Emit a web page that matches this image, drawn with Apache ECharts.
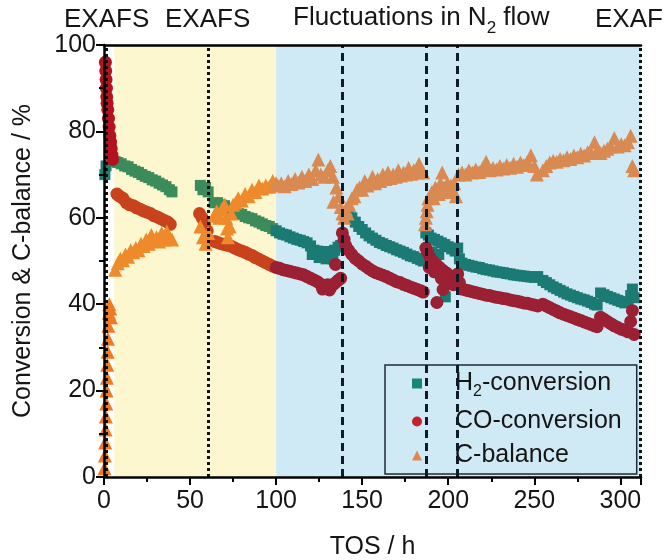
<!DOCTYPE html>
<html><head><meta charset="utf-8">
<script src="https://cdn.jsdelivr.net/npm/echarts/dist/echarts.min.js"></script>
<style>html,body{margin:0;padding:0;background:#fff}#c{width:672px;height:560px}</style>
</head><body><div id="c"></div><script>
// ---------- data ----------
const seriesNames = ['H2-conversion', 'CO-conversion', 'C-balance'];

const h2Data = [
  [0.5,70],[1.2,72],
  [6.5,73],[8,72.8],[10,72.5],[12,72],[14,71.8],[16,71.2],[18,70.8],[20,70.5],[22,70],[24,69.6],[26,69.3],[28,68.8],[30,68.5],[32,68],[34,67.6],[36,67.2],[38,66.5],[39.5,66],
  [56,67.5],[57.5,66.5],[59,67],[60.5,66],
  [64,63.5],[66,63.5],[68,63],[70,62.8],[72,62.2],[74,62],[76,61.5],[78,61],[80,60.8],[82,60.3],[84,60],[86,59.8],[88,59.3],[90,59],[92,58.6],[94,58.2],[96,58],[98,57.5],[100,57],
  [102,56.5],[104,56.2],[106,56],[108,55.6],[110,55.3],[112,55],[114,54.8],[116,54.5],[118,54.2],[120,53.5],[121,51.5],[122,52.5],[124,52.3],[125,50.8],[126,52],[128,52.2],[129,50.5],[130,51.8],[132,52],[133,50.5],[134,52.5],[136,53.2],[137.5,53.6],
  [142,60.5],[144,60],[146,59],[148,58],[150,57.3],[152,56.5],[154,55.8],[156,55.3],[158,54.8],[160,54.3],[162,54],[164,53.6],[166,53.3],[168,53],[170,52.6],[172,52.3],[174,52],[176,51.6],[178,51.2],[180,51],[182,50.6],[184,50.3],[185.5,50],
  [187,56.5],[188.5,56],[190,55.3],[192,55],[194,54.6],[196,54.2],[198,53.8],[200,53.3],[202,52.8],[204,52.3],[190.5,52],[194.5,51.5],[198.3,41.7],
  [205.5,53],[206.5,50.5],[208,49.5],[210,49.2],[212,49],[214,48.8],[216,48.6],[218,48.5],[220,48.2],[222,48],[224,47.9],[226,47.7],[228,47.5],[230,47.4],[232,47.3],[234,47.1],[236,47],[238,46.8],[240,46.7],[242,46.6],[244,46.5],[246,46.4],[248,46.3],[250,46.2],[252,46.4],
  [255,45.5],[257,45],[259,44.5],[261,44],[263,43.6],[265,43.2],[267,42.8],[269,42.4],[271,42.1],[273,41.8],[275,41.5],[277,41.2],[279,41],[281,40.7],[283,40.4],[285,40],[286.5,39.8],
  [288.5,42.6],[290.5,42.2],[292.5,41.8],[294.5,41.5],[296.5,41.2],[298.5,40.9],[300.5,40.6],[302.5,40.3],[304.5,40.4],[306,42],[307,43.5],[308,41.5]
];

const coData = [
  [0.8,96],[1,94],[1.2,92],[1.4,90],[1.6,88],[1.8,86.5],[2.2,85],[2.6,83],[3,81],[3.4,79],[3.8,77.5],[4.2,76],[4.6,74.5],[5,73.5],
  [7.5,65.5],[9,65],[11,64.5],[13,63.5],[15,63],[17,62.8],[19,62.3],[21,62],[23,61.6],[25,61.3],[27,61],[29,60.5],[31,60.2],[33,59.8],[35,59.4],[37,59],[38.5,58.5],
  [55.5,61],[57,60],[58.5,58.5],[60,57],
  [64.5,54.5],[66,54.3],[68,54],[70,53.8],[72,53.6],[74,53.4],[76,53],[78,52.6],[80,52.3],[82,52],[84,51.6],[86,51.3],[88,50.8],[90,50.4],[92,50],[94,49.6],[96,49.2],[98,48.8],[100,48.5],
  [102,48.3],[104,48],[106,47.8],[108,47.6],[110,47.4],[112,47.2],[114,47],[116,46.8],[118,46.4],[120,46],[122,45.6],[124,45.2],[126,44.6],[127,43.5],[128,44.2],[130,44.5],[131,43.3],[132,44],[134,44.8],[136,45.5],[137.5,46],[134.5,49.2],
  [138.5,56.5],[139.5,55],[140.5,53.5],[142,52.5],[144,51.5],[146,50.6],[148,50],[150,49.3],[152,48.8],[154,48.2],[156,47.7],[158,47.3],[160,47],[162,46.7],[164,46.4],[166,46],[168,45.6],[170,45.2],[172,45],[174,44.6],[176,44.3],[178,44],[180,43.7],[182,43.4],[184,43.1],[185.5,42.8],
  [187,53],[188,52],[189.5,50.8],[191,50],[193,49.2],[195,48.5],[197,47.8],[199,47.2],[201,46.5],[203,46],[204.5,45.6],[189,48.5],[192,47.5],[196,46],[200,45],[203,44.5],[193.4,40.4],[197,43.4],
  [205.5,47],[206.5,45],[208,43.5],[210,43.3],[212,43.1],[214,42.9],[216,42.7],[218,42.5],[220,42.3],[222,42.1],[224,42],[226,41.8],[228,41.6],[230,41.5],[232,41.3],[234,41.2],[236,41],[238,40.8],[240,40.7],[242,40.5],[244,40.3],[246,40.2],[248,40],[250,39.8],[252,39.6],
  [255,40],[257,39.6],[259,39.2],[261,38.8],[263,38.4],[265,38],[267,37.7],[269,37.4],[271,37.1],[273,36.8],[275,36.5],[277,36.2],[279,35.9],[281,35.6],[283,35.3],[285,35],[286.5,34.8],
  [288.5,37],[290.5,36.5],[292.5,36],[294.5,35.5],[296.5,35],[298.5,34.6],[300.5,34.2],[302.5,34],[304.5,33.6],[306,36],[307,38.5],[308,33]
];

const cbData = [
  [0.3,2],[0.5,5],[0.7,8],[0.9,11],[1.1,14],[1.3,17],[1.5,20],[1.7,23],[1.9,26],[2.1,29],[2.3,32],[2.5,35],[2.8,38],[3.1,40],[3.6,39],[4,37],
  [6.5,48],[8,49.5],[9.5,50.5],[11,50.2],[12.5,51.5],[14,51],[15.5,52.5],[17,52],[18.5,53],[20,52.5],[21.5,54],[23,53.5],[24.5,55],[26,54],[27.5,56],[29,54.8],[30.5,55.5],[32,54.5],[33.5,56.5],[35,55],[36.5,56.8],[38,55.5],[39.5,55],
  [56,58],[57.5,55.5],[59,54],[60.5,56.5],
  [64,60.5],[65.5,61.5],[67,60],[68.5,62],[70,63],[71,60],[71.5,57.5],[72,55.5],[73,58],[74,61],[75,63],[76.5,63.5],[78,64.5],[80,64],[82,65.5],[84,65],[86,66.5],[88,66],[90,67.5],[92,66.8],[94,67.5],[96,67.2],[98,68.5],[100,68],
  [101,67.5],[103,68],[105,67.3],[107,68.5],[109,67.8],[111,69],[113,68.2],[115,69.5],[117,68.5],[119,70],[121,69],[123,71],[124.5,73.5],[126,70],[128,69.5],[130,71],[131.5,72],[133,69.5],[133.3,63.7],[135,67],[136.5,65],[137.5,62.5],
  [138.5,61],[139.5,60],[140.5,62],[141.5,61],[142.5,63],[144,64.5],[145.5,65],[147,66.5],[148.5,67],[150,66.5],[151.5,68.5],[153,67.5],[154.5,68],[156,69.5],[157.5,68],[159,69],[160.5,68.5],[162,70],[163.5,69],[165,70.5],[166.5,69.2],[168,70],[169.5,69.5],[171,71],[172.5,69.8],[174,70.5],[175.5,70],[177,71.5],[178.5,70.2],[180,71],[181.5,70.5],[183,72.5],[184.5,71],[185.5,70.5],
  [186.5,58.5],[187,60],[187.5,61.5],[188,63],[188.5,64.5],[189.5,65],[190.5,66],[191.5,64.5],[192.5,67],[193.5,66],[194.5,65.5],[195.5,68],[196.5,70.5],[197.5,67],[198.5,66.5],[199.5,68],[200.5,66],[201.5,67.5],[202.5,66.5],[203.5,68],[204.5,65],
  [206,70],[208,70.5],[210,70],[212,71],[214,70.5],[216,71.2],[218,70.6],[220,71.5],[222,73],[224,71],[226,71.5],[228,71.2],[230,72],[232,71.4],[234,72.2],[236,71.6],[238,72.5],[240,71.8],[242,72.8],[244,72.2],[246,73],[248,74.5],[250,72],[251.5,70],
  [255,71],[257,72],[259,72.8],[261,73.2],[263,73],[265,73.6],[267,73.3],[269,74],[271,73.6],[273,74.4],[275,74],[277,74.8],[279,74.4],[281,75.2],[283,75],[285,77.5],[286.5,75.5],
  [288.5,75],[290.5,75.5],[292.5,76],[294.5,76.5],[296.5,78.5],[298.5,76.5],[300.5,77],[302.5,76.8],[304.5,77.5],[306,79],[307,72],[308,71]
];

const xTicks = {min: 0, max: 312, interval: 50};
const yTicks = {min: 0, max: 100, interval: 20};
const shading = [[6, 100], [100, 312]];      // yellow, blue phases (h)
const exafsLines = [1.5, 60.5, 311.3];        // dotted markers (h)
const n2Lines = [138.3, 187.5, 205];          // dashed markers (h)
const topLabels = ['EXAFS', 'EXAFS', 'Fluctuations in N', 'EXAFS'];

// ---------- chart ----------
const FONT = 'Liberation Sans, Arial, sans-serif';
const TXT = '#151515';
const chart = echarts.init(document.getElementById('c'), null, {renderer: 'canvas'});

const phaseColors = {
  h2: ['#1d7f6f', '#3c8b5b', '#1b7b74'],
  co: ['#b5121f', '#c8431c', '#9b2034'],
  cb: ['#f07a22', '#ee8a2b', '#d88a52']
};
function vm(idx, cols) {
  return {type: 'piecewise', show: false, seriesIndex: idx, dimension: 0,
    pieces: [{lt: 6, color: cols[0]}, {gte: 6, lt: 100, color: cols[1]}, {gte: 100, color: cols[2]}]};
}
const axisCommon = {
  axisLine: {show: true, lineStyle: {color: '#000', width: 2.5}},
  axisTick: {show: true, inside: false, length: 8, lineStyle: {color: '#000', width: 2}},
  minorTick: {show: true, splitNumber: 2, length: 5, lineStyle: {color: '#000', width: 2}},
  splitLine: {show: false},
  axisLabel: {fontFamily: FONT, fontSize: 25, color: TXT},
  nameTextStyle: {fontFamily: FONT, fontSize: 25, color: TXT},
  z: 10
};

chart.setOption({
  animation: false,
  backgroundColor: '#fff',
  grid: {left: 104, right: 31, top: 45, bottom: 83, containLabel: false, outerBoundsMode: 'none'},
  xAxis: [
    Object.assign({}, axisCommon, {type: 'value', min: xTicks.min, max: xTicks.max, interval: xTicks.interval,
      name: 'TOS / h', nameLocation: 'middle', nameGap: 58,
      axisLabel: Object.assign({}, axisCommon.axisLabel, {margin: 12,
        formatter: v => (v % 50 === 0 ? String(v) : '')})}),
    {type: 'value', position: 'top', min: xTicks.min, max: xTicks.max, z: 10,
      axisLine: {show: true, lineStyle: {color: '#000', width: 2.5}},
      axisTick: {show: false}, axisLabel: {show: false}, splitLine: {show: false}}
  ],
  yAxis: Object.assign({}, axisCommon, {type: 'value', min: yTicks.min, max: yTicks.max, interval: yTicks.interval,
    name: 'Conversion & C-balance / %', nameLocation: 'middle', nameGap: 68,
    axisLabel: Object.assign({}, axisCommon.axisLabel, {margin: 8})}),
  visualMap: [vm(1, phaseColors.h2), vm(2, phaseColors.co), vm(3, phaseColors.cb)],
  legend: {
    left: 385, top: 365, orient: 'vertical',
    padding: [6, 15, 6, 27], itemGap: 9, itemWidth: 10, itemHeight: 10,
    borderColor: '#1e2a33', borderWidth: 1.5, borderRadius: 0,
    data: [{name: seriesNames[0], icon: 'rect'}, {name: seriesNames[1], icon: 'circle'}, {name: seriesNames[2], icon: 'triangle'}],
    formatter: n => n === seriesNames[0] ? '{g|}{t|H}{s|2}{t|-conversion}' : '{g|}{t|' + n + '}',
    textStyle: {fontFamily: FONT, color: TXT,
      rich: {g: {width: 28},
        t: {fontFamily: FONT, fontSize: 25, lineHeight: 25, color: TXT, verticalAlign: 'top'},
        s: {fontFamily: FONT, fontSize: 16, lineHeight: 16, padding: [13, 0, 0, 0], color: TXT, verticalAlign: 'top'}}}
  },
  series: [
    {type: 'line', name: 'bg', data: [], z: 0, silent: true,
      markArea: {silent: true, data: [
        [{xAxis: shading[0][0], itemStyle: {color: '#fcf7cf'}}, {xAxis: shading[0][1]}],
        [{xAxis: shading[1][0], itemStyle: {color: '#d0eaf5'}}, {xAxis: shading[1][1]}]
      ]}},
    {type: 'scatter', name: seriesNames[0], data: h2Data, symbol: 'rect', symbolSize: 11, z: 2,
      itemStyle: {color: '#17867a', opacity: 1}},
    {type: 'scatter', name: seriesNames[1], data: coData, symbol: 'circle', symbolSize: 13, z: 2,
      itemStyle: {color: '#c4222e', opacity: 1}},
    {type: 'scatter', name: seriesNames[2], data: cbData, symbol: 'triangle', symbolSize: 14, z: 2,
      itemStyle: {color: '#e08850', opacity: 1}},
    {type: 'line', name: 'lines', data: [], z: 6, silent: true,
      markLine: {symbol: 'none', silent: true, label: {show: false}, animation: false,
        data: exafsLines.map(x => ({xAxis: x, lineStyle: {color: '#111', width: 3, type: [3, 3]}}))
          .concat(n2Lines.map(x => ({xAxis: x, lineStyle: {color: '#0d1b2a', width: 3, type: [8, 5]}})))}}
  ],
  graphic: [
    {type: 'text', left: 64, top: 7, style: {text: topLabels[0], font: '26px ' + FONT, fill: TXT}},
    {type: 'text', left: 165, top: 7, style: {text: topLabels[1], font: '26px ' + FONT, fill: TXT}},
    {type: 'text', left: 293, top: 5, style: {text: '{t|Fluctuations in N}{s|2}{t| flow}', fill: TXT,
      rich: {t: {fontFamily: FONT, fontSize: 26, lineHeight: 30, verticalAlign: 'top', fill: TXT},
             s: {fontFamily: FONT, fontSize: 17, lineHeight: 17, padding: [15, 0, 0, 0], verticalAlign: 'top', fill: TXT}}}},
    {type: 'text', left: 595, top: 7, style: {text: topLabels[3], font: '26px ' + FONT, fill: TXT}},
    {type: 'rect', shape: {x: 664, y: 0, width: 8, height: 44}, style: {fill: '#fff'}, z: 100}
  ]
});
</script></body></html>
